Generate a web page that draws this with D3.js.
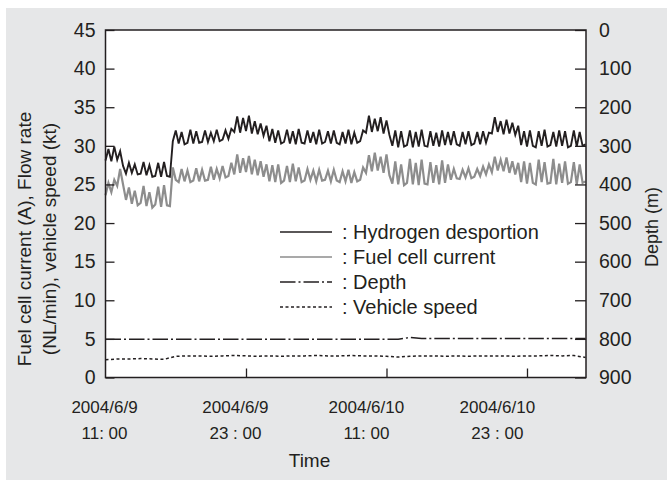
<!DOCTYPE html>
<html>
<head>
<meta charset="utf-8">
<script src="https://cdn.jsdelivr.net/npm/d3@7"></script>
<style>
body { margin: 0; background: #fff; }
svg { display: block; font-family: "Liberation Sans", Arial, Helvetica, sans-serif; }
</style>
</head>
<body>
<svg id="chart" width="667" height="480"></svg>
<script>
// samples every 15 min from 2004/6/9 11:00
var sampleStep = 0.25;
// hydrogen desorption (NL/min)
var hydrogen = [
    28.1, 29.6, 28.0, 29.9, 28.2, 29.3, 27.4, 26.4,
    27.8, 26.5, 27.6, 26.3, 26.4, 27.9, 26.2, 27.5, 26.0, 26.1, 27.8, 26.0, 27.9, 26.1, 26.0,
    30.6, 32.0, 30.3, 31.8, 30.2, 30.4, 32.1, 30.3, 31.9, 30.4, 30.5, 32.0, 30.5, 31.7, 30.6, 32.1, 30.6, 30.8, 32.0, 30.9, 32.2,
    31.8, 33.8, 31.7, 33.6, 31.9, 33.9, 31.6, 33.2, 31.5, 32.9, 31.3, 32.6,
    30.6, 32.2, 30.4, 32.0, 30.3, 30.5, 32.1, 30.3, 31.9, 30.2, 32.2, 30.4, 30.3, 32.0, 30.4, 31.8, 30.2,
    32.1, 30.3, 30.5, 31.9, 30.3, 32.0, 30.4, 30.2, 31.8, 30.3, 32.1, 30.2, 31.7, 30.4, 30.6, 32.0,
    31.7, 33.9, 31.8, 33.5, 31.9, 33.7, 31.6, 33.3, 31.4,
    30.0, 32.0, 29.8, 31.9, 29.9, 30.1, 32.0, 29.8, 31.8, 29.9, 32.1, 30.0, 29.9, 31.9, 30.0, 31.7, 29.9, 32.0, 30.1, 31.8,
    30.1, 31.9, 30.2, 30.0, 31.8, 30.2, 31.9, 30.1, 30.3, 31.8, 30.2, 31.9, 30.4, 31.7,
    31.6, 33.7, 31.8, 33.2, 31.5, 33.4, 31.6, 33.0, 31.4, 32.6,
    30.1, 31.9, 29.9, 32.0, 30.0, 29.8, 31.9, 30.0, 32.1, 29.9, 30.1, 31.8, 29.9, 32.0, 30.0, 31.9, 29.8, 30.0, 32.0, 29.9, 31.8, 30.0, 30.2
];
// fuel cell current (A)
var fuelCell = [
    23.6, 25.2, 24.0, 25.6, 24.8, 27.0, 25.0, 23.0,
    24.6, 22.5, 24.2, 22.3, 22.6, 24.8, 22.2, 24.0, 22.0, 22.4, 24.7, 22.1, 24.9, 22.3, 22.2,
    27.2, 25.6, 25.3, 27.0, 25.4, 26.8, 25.3, 25.5, 27.1, 25.4, 26.9, 25.5, 25.6, 27.3, 25.6, 27.0, 25.8, 27.4, 25.9, 26.1, 27.8,
    26.3, 28.9, 26.5, 28.4, 26.6, 28.7, 26.3, 28.2, 26.2, 28.0, 26.0, 27.6,
    25.4, 27.5, 25.3, 27.6, 25.2, 25.5, 27.4, 25.3, 27.7, 25.4, 27.2, 25.3, 25.5, 27.0, 25.6, 26.8, 25.4,
    26.9, 25.5, 25.6, 26.8, 25.4, 26.9, 25.5, 25.3, 26.7, 25.4, 26.9, 25.2, 26.6, 25.4, 25.6, 27.2,
    26.5, 28.8, 26.7, 29.1, 26.8, 28.6, 26.5, 28.9, 26.2,
    25.1, 28.0, 25.0, 27.6, 24.9, 25.2, 28.3, 25.0, 27.8, 24.9, 28.2, 25.1, 25.0, 27.9, 25.2, 27.5, 25.0, 28.1, 25.2, 27.6,
    25.6, 27.0, 25.8, 25.7, 26.9, 25.9, 27.1, 25.8, 26.0, 27.0, 26.1, 27.3, 26.3, 27.6,
    26.6, 28.6, 26.8, 28.2, 26.7, 28.5, 26.5, 28.0, 26.3, 27.8,
    25.3, 28.0, 25.1, 27.8, 25.2, 25.0, 28.2, 25.3, 27.9, 25.1, 25.2, 28.3, 25.0, 27.7, 25.2, 28.0, 25.1, 25.3, 27.9, 25.0, 27.6, 25.2, 25.4
];
// hourly samples
var hourStep = 1;
// vehicle speed (kt)
var speed = [
    2.3, 2.4, 2.4, 2.45, 2.4, 2.35, 2.75, 2.8, 2.8, 2.75, 2.8, 2.85, 2.8, 2.75, 2.8, 2.75, 2.8, 2.8, 2.85, 2.8, 2.8,
    2.85, 2.8, 2.8, 2.75, 2.65, 2.75, 2.8, 2.8, 2.75, 2.8, 2.75, 2.8, 2.8, 2.8, 2.75, 2.8, 2.8, 2.85, 2.8, 2.85, 2.6
];
// depth (m)
var depth = [
    801, 801, 801, 801, 801, 801, 801, 801, 801, 801, 801, 801, 801, 801, 801, 801, 801, 801, 801, 801, 801,
    801, 801, 801, 801, 801, 796.5, 799, 799, 799, 799, 799, 799, 799, 799, 799, 799, 799, 799, 799, 799, 799
];

var leftTicks = [0, 5, 10, 15, 20, 25, 30, 35, 40, 45];
var rightTicks = [0, 100, 200, 300, 400, 500, 600, 700, 800, 900];
var timeTicks = [0, 12, 24, 36];
var dateLabels = ['2004/6/9', '2004/6/9', '2004/6/10', '2004/6/10'];
var hourLabels = ['11: 00', '23 : 00', '11: 00', '23 : 00'];
var legendNames = ['Hydrogen desportion', 'Fuel cell current', 'Depth', 'Vehicle speed'];

var ink = '#231f20';
var W = 667, H = 480;
var plotL = 105.5, plotR = 586, plotT = 30, plotB = 377.5;

var svg = d3.select('#chart');

svg.append('rect').attr('x', 6).attr('y', 8).attr('width', W - 6).attr('height', H - 8).attr('fill', '#e6e7e8');
svg.append('rect').attr('x', plotL).attr('y', plotT).attr('width', plotR - plotL).attr('height', plotB - plotT).attr('fill', '#fff');

var x = d3.scaleLinear().domain([0, 41.04]).range([plotL, plotR]);
// the date labels sit a little left of their ticks in the original
var xLabel = d3.scaleLinear().domain([0, 41.04]).range([plotL - 1, plotL + (plotR - plotL) * 0.93]);
var y = d3.scaleLinear().domain([0, 45]).range([plotB, plotT]);
var yDepth = d3.scaleLinear().domain([0, 900]).range([plotT, plotB]);

var series = [
    {values: hydrogen, step: sampleStep, scale: y, color: ink, width: 1.9, dash: null},
    {values: fuelCell, step: sampleStep, scale: y, color: '#8d8d8d', width: 2.2, dash: null},
    {values: depth, step: hourStep, scale: yDepth, color: ink, width: 1.5, dash: '15.5,3,2,3'},
    {values: speed, step: hourStep, scale: y, color: ink, width: 1.5, dash: '3,2.5'}
];

// draw the gray one under the black one
[1, 0, 2, 3].forEach(function(k) {
    var s = series[k];
    var line = d3.line()
        .x(function(d, i) { return x(i * s.step); })
        .y(function(d) { return s.scale(d); });
    svg.append('path')
        .attr('d', line(s.values))
        .attr('fill', 'none')
        .attr('stroke', s.color)
        .attr('stroke-width', s.width)
        .attr('stroke-linejoin', 'miter')
        .attr('stroke-dasharray', s.dash);
});

function styleAxis(g, size) {
    g.select('.domain').remove();
    g.selectAll('line').attr('stroke', ink).attr('stroke-width', 1.3);
    g.selectAll('text').attr('fill', ink).attr('font-size', size);
    g.attr('font-family', null);
}

svg.append('g').attr('transform', 'translate(' + plotL + ',0)')
    .call(d3.axisLeft(y).tickValues(leftTicks).tickSize(-9).tickSizeOuter(0).tickPadding(10))
    .call(styleAxis, 19.5);

svg.append('g').attr('transform', 'translate(' + plotR + ',0)')
    .call(d3.axisRight(yDepth).tickValues(rightTicks).tickSize(-11).tickSizeOuter(0).tickPadding(13))
    .call(styleAxis, 19.5);

svg.append('g').attr('transform', 'translate(0,' + plotB + ')')
    .call(d3.axisBottom(x).tickValues(timeTicks.slice(1)).tickSize(-9).tickSizeOuter(0).tickFormat(''))
    .call(styleAxis, 17);

svg.append('rect').attr('x', plotL).attr('y', plotT).attr('width', plotR - plotL).attr('height', plotB - plotT)
    .attr('fill', 'none').attr('stroke', ink).attr('stroke-width', 1.5);

var xl = svg.append('g').attr('fill', ink).attr('font-size', 17).attr('text-anchor', 'middle');
timeTicks.forEach(function(t, i) {
    xl.append('text').attr('x', xLabel(t)).attr('y', 413).text(dateLabels[i]);
    xl.append('text').attr('x', xLabel(t)).attr('y', 439).text(hourLabels[i]);
});

svg.append('text').attr('x', 309.5).attr('y', 467).attr('text-anchor', 'middle')
    .attr('font-size', 19).attr('fill', ink).text('Time');

svg.append('text').attr('transform', 'translate(31,239) rotate(-90)').attr('text-anchor', 'middle')
    .attr('font-size', 19).attr('fill', ink).text('Fuel cell current (A), Flow rate');
svg.append('text').attr('transform', 'translate(56,239) rotate(-90)').attr('text-anchor', 'middle')
    .attr('font-size', 19).attr('fill', ink).text('(NL/min), vehicle speed (kt)');

svg.append('text').attr('transform', 'translate(658,227) rotate(-90)').attr('text-anchor', 'middle')
    .attr('font-size', 18).attr('fill', ink).text('Depth (m)');

// legend
var lg = svg.append('g');
legendNames.forEach(function(name, i) {
    var s = series[i];
    var ly = 232 + i * 25;
    lg.append('line').attr('x1', 280).attr('x2', 332).attr('y1', ly).attr('y2', ly)
        .attr('stroke', s.color).attr('stroke-width', 1.5).attr('stroke-dasharray', s.dash);
    lg.append('text').attr('x', 342).attr('y', ly + 7).attr('font-size', 20).attr('fill', ink)
        .text(': ' + name);
});
</script>
</body>
</html>
